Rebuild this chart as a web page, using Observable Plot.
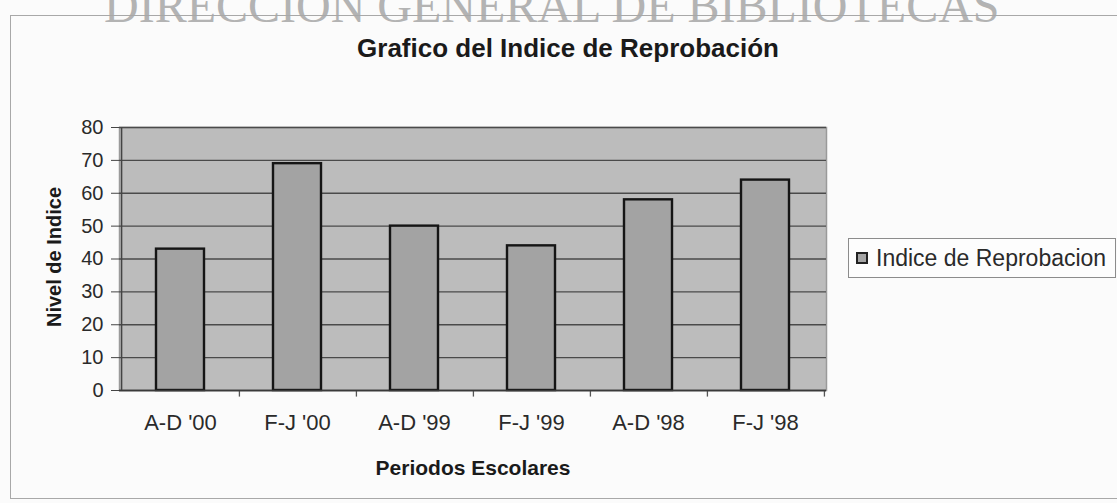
<!DOCTYPE html>
<html>
<head>
<meta charset="utf-8">
<script src="https://cdn.jsdelivr.net/npm/d3@7"></script>
<script src="https://cdn.jsdelivr.net/npm/@observablehq/plot@0.6"></script>
<style>
  html, body { margin: 0; padding: 0; background: #fbfbfb; }
  #wrap { position: relative; width: 1117px; height: 503px; overflow: hidden; font-family: "Liberation Sans", Arial, sans-serif; }
  #wrap svg { position: absolute; left: 0; top: 0; }
  .ov { position: absolute; white-space: nowrap; }
  #watermark { left: 104px; top: -18px; font-family: "Liberation Serif", "Times New Roman", serif; font-size: 48px; line-height: 48px; color: #b3b3b3; }
  #border { left: 10px; top: 15px; width: 1130px; height: 484px; border: 1.5px solid #a8a8a8; box-sizing: border-box; }
  #title { left: 568px; top: 35px; line-height: 26px; transform: translateX(-50%); font-weight: bold; font-size: 26px; color: #1a1a1a; }
  #ytitle { left: 54px; top: 257px; line-height: 20px; transform: translate(-50%, -50%) rotate(-90deg); font-weight: bold; font-size: 20px; color: #1a1a1a; }
  #xtitle { left: 473px; top: 457px; line-height: 21px; transform: translateX(-50%); font-weight: bold; font-size: 21px; color: #1a1a1a; }
  #legend { left: 848px; top: 238px; width: 268px; height: 40px; border: 1.5px solid #8c8c8c; box-sizing: border-box; background: #fdfdfd; display: flex; align-items: center; padding-left: 7px; font-size: 23px; color: #2a2a2a; }
  #legend .sw { width: 12px; height: 12px; border: 2px solid #222; box-sizing: border-box; background: #a5a5a5; margin-right: 8px; }
</style>
</head>
<body>
<div id="wrap">
  <div id="chart"></div>
  <div class="ov" id="watermark">DIRECCION GENERAL DE BIBLIOTECAS</div>
  <div class="ov" id="border"></div>
  <div class="ov" id="title">Grafico del Indice de Reprobación</div>
  <div class="ov" id="ytitle">Nivel de Indice</div>
  <div class="ov" id="xtitle">Periodos Escolares</div>
  <div class="ov" id="legend"><span class="sw"></span><span id="legtext">Indice de Reprobacion</span></div>
</div>
<script>
const periodos = ["A-D '00", "F-J '00", "A-D '99", "F-J '99", "A-D '98", "F-J '98"];
const indice = [43, 69, 50, 44, 58, 64];
const yTicks = [0, 10, 20, 30, 40, 50, 60, 70, 80];

const data = periodos.map((p, i) => ({periodo: p, valor: indice[i]}));

const W = 1117, H = 503, mL = 119, mR = 291, mT = 127, mB = 113;
const step = (W - mL - mR) / periodos.length;

const chart = Plot.plot({
  width: W,
  height: H,
  marginLeft: mL,
  marginRight: mR,
  marginTop: mT,
  marginBottom: mB,
  style: {background: "transparent", fontFamily: "Liberation Sans, Arial, sans-serif", color: "#2a2a2a"},
  x: {type: "band", domain: periodos, paddingInner: 0.59, paddingOuter: 0.295},
  y: {domain: [0, 80]},
  marks: [
    Plot.frame({fill: "#bcbcbc", stroke: "#9a9a9a", strokeWidth: 1.5}),
    Plot.ruleY(yTicks, {stroke: "#4a4a4a", strokeWidth: 1.3}),
    Plot.barY(data, {x: "periodo", y: "valor", fill: "#a3a3a3", stroke: "#151515", strokeWidth: 2.4}),
    Plot.ruleX(periodos, {x: d => d, y1: -2, y2: 0, dx: step / 2, stroke: "#555", strokeWidth: 1.3}),
    Plot.ruleY([0], {stroke: "#3a3a3a", strokeWidth: 1.5}),
    Plot.ruleX([periodos[0]], {x: d => d, y1: 0, y2: 80, dx: -step / 2, stroke: "#444", strokeWidth: 1.5}),
    Plot.axisY({ticks: yTicks, tickSize: 8, tickPadding: 8, fontSize: 20, label: null, stroke: "#444"}),
    Plot.axisX({tickSize: 0, tickPadding: 24, fontSize: 22, label: null})
  ]
});
document.getElementById("chart").appendChild(chart);
</script>
</body>
</html>
